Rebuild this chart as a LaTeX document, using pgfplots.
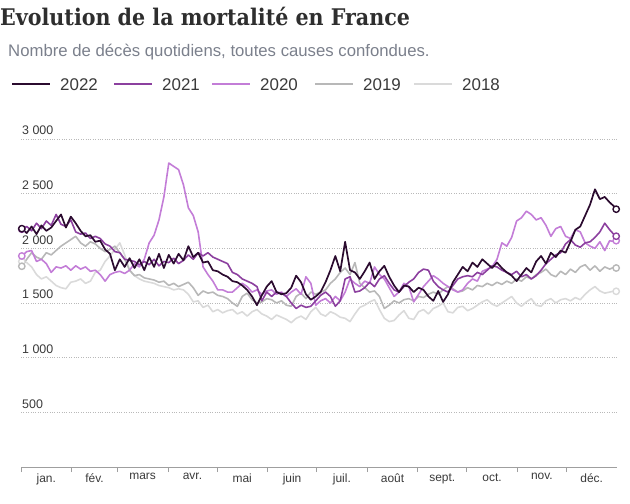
\documentclass[border=0pt]{standalone}
\usepackage{pgfplots}
\pgfplotsset{compat=1.18}
\usepackage{pgfplotstable}
\usepackage{fontspec}
\setmainfont{Liberation Sans}
\newfontfamily\titlefont{DejaVu Serif Condensed Bold}
\definecolor{cA}{HTML}{2B0B2F}
\definecolor{cB}{HTML}{8C409F}
\definecolor{cC}{HTML}{C37DD7}
\definecolor{cD}{HTML}{B8B8B8}
\definecolor{cE}{HTML}{DADADA}
\definecolor{titlec}{HTML}{2E2E2E}
\definecolor{subc}{HTML}{7B808C}
\definecolor{txtc}{HTML}{3A3A3A}
\pgfplotstableread{
d a b c e f
1 2180 2175 1930 1836 1880
4 2140 2200 1970 1900 1870
7 2200 2160 1980 1960 1830
10 2130 2230 1880 1920 1760
13 2210 2180 1900 1900 1720
16 2160 2250 1860 1960 1740
19 2190 2210 1780 1940 1700
22 2250 2310 1830 1980 1660
25 2310 2220 1820 2020 1640
28 2190 2200 1840 2050 1630
31 2290 2260 1800 2080 1690
34 2230 2150 1840 2110 1700
37 2160 2130 1810 2050 1720
40 2110 2140 1830 2020 1680
43 2120 2090 1790 2060 1700
46 2060 2110 1800 2040 1780
49 2070 2090 1760 2000 1800
52 1990 2040 1700 1970 1880
55 1950 2020 1760 1990 1930
58 1800 1970 1780 2020 1990
61 1900 1960 1790 1960 2050
64 1830 1900 1770 1900 1940
67 1910 1890 1800 1800 1800
70 1820 1880 1860 1750 1750
73 1900 1850 1830 1760 1720
76 1800 1880 1900 1730 1700
79 1920 1850 2050 1720 1690
82 1830 1900 2120 1710 1680
85 1950 1840 2260 1690 1660
88 1820 1880 2470 1700 1650
91 1940 1870 2780 1660 1640
94 1860 1910 2750 1680 1620
97 1950 1860 2720 1650 1630
100 1890 1890 2580 1670 1620
103 2020 1940 2370 1690 1580
106 1920 1900 2300 1640 1510
109 1960 1960 2150 1570 1520
112 1870 1930 1830 1610 1460
115 1880 1960 1760 1590 1480
118 1800 1920 1700 1600 1420
121 1790 1900 1620 1570 1440
124 1760 1880 1620 1560 1410
127 1740 1860 1600 1540 1430
130 1700 1780 1600 1500 1440
133 1690 1760 1640 1470 1400
136 1660 1720 1680 1560 1420
139 1620 1700 1650 1590 1380
142 1560 1680 1600 1530 1420
145 1480 1650 1620 1500 1440
148 1570 1520 1580 1510 1400
151 1650 1600 1610 1540 1380
154 1700 1560 1620 1530 1350
157 1600 1600 1580 1500 1390
160 1580 1590 1600 1520 1370
163 1590 1560 1560 1480 1350
166 1640 1500 1600 1470 1320
169 1750 1450 1630 1560 1360
172 1690 1480 1580 1590 1380
175 1580 1460 1740 1540 1350
178 1530 1470 1680 1600 1420
181 1560 1520 1480 1580 1460
184 1600 1570 1520 1600 1400
187 1690 1600 1540 1620 1380
190 1800 1560 1500 1680 1420
193 1930 1470 1560 1720 1400
196 1790 1520 1520 1780 1370
199 2060 1720 1600 1820 1360
202 1800 1740 1720 1760 1330
205 1780 1600 1680 1870 1400
208 1720 1610 1650 1680 1460
211 1790 1640 1700 1640 1480
214 1870 1690 1680 1600 1510
217 1720 1650 1830 1610 1530
220 1790 1720 1760 1560 1440
223 1840 1750 1720 1450 1360
226 1740 1680 1640 1480 1330
229 1660 1620 1560 1520 1340
232 1600 1600 1600 1500 1390
235 1660 1650 1680 1530 1430
238 1650 1690 1650 1540 1360
241 1600 1720 1510 1520 1350
244 1640 1780 1580 1560 1420
247 1620 1810 1650 1550 1440
250 1560 1800 1700 1580 1400
253 1520 1700 1750 1600 1450
256 1610 1650 1720 1580 1470
259 1510 1620 1680 1620 1500
262 1580 1600 1650 1650 1420
265 1690 1660 1620 1630 1410
268 1760 1720 1600 1600 1460
271 1830 1740 1620 1610 1470
274 1790 1750 1680 1640 1430
277 1870 1740 1720 1620 1450
280 1830 1780 1700 1660 1480
283 1900 1760 1790 1650 1510
286 1860 1800 1810 1680 1530
289 1820 1840 1830 1660 1490
292 1870 1830 1900 1690 1470
295 1820 1800 2050 1670 1500
298 1780 1780 2020 1700 1530
301 1750 1760 2100 1680 1560
304 1700 1790 2250 1720 1500
307 1760 1740 2280 1700 1470
310 1820 1760 2340 1740 1510
313 1780 1720 2310 1720 1540
316 1880 1750 2260 1760 1480
319 1930 1800 2280 1780 1470
322 1860 1860 2210 1810 1520
325 1960 1900 2110 1760 1540
328 1920 1940 2180 1740 1500
331 1980 1960 2200 1790 1530
334 1960 2040 2110 1760 1540
337 2060 2080 2090 1810 1520
340 2170 2030 2170 1780 1550
343 2200 2010 2150 1830 1530
346 2300 2050 2050 1850 1580
349 2400 2060 2020 1800 1620
352 2540 2100 2000 1840 1650
355 2450 2150 2060 1790 1610
358 2470 2230 1980 1830 1590
361 2420 2170 2070 1810 1600
364 2380 2120 2060 1830 1610
365 2358 2111 2070 1820 1607
}\mortdata
\begin{document}
\begin{tikzpicture}
\useasboundingbox (0,0) rectangle (630bp,-504bp);
\node[anchor=base west, inner sep=0pt, text=titlec] at (0bp,-25bp)
  {\titlefont\fontsize{23}{23}\selectfont Evolution de la mortalité en France};
\node[anchor=base west, inner sep=0pt, text=subc] at (8bp,-56bp)
  {\fontsize{16.8}{16.8}\selectfont Nombre de décès quotidiens, toutes causes confondues.};
% legend
\foreach \xx/\cc/\yy in {12/cA/2022,114/cB/2021,212/cC/2020,315/cD/2019,414/cE/2018}{
  \draw[\cc, line width=1.8bp] (\xx bp,-84bp) -- ++(38bp,0);
  \node[anchor=base west, inner sep=0pt, text=txtc] at ([xshift=48bp]\xx bp,-90bp)
    {\fontsize{17}{17}\selectfont \yy};
}
\begin{axis}[
  at={(21bp,-467bp)}, anchor=south west,
  scale only axis, width=596bp, height=328bp,
  xmin=0.5, xmax=365.5, ymin=0, ymax=3000,
  separate axis lines,
  axis x line*=bottom, axis y line*=left,
  y axis line style={draw=none},
  x axis line style={draw=gray!75, line width=0.6bp},
  ytick={500,1000,1500,2000,2500,3000},
  ytick style={draw=none},
  ymajorgrids,
  grid style={dotted, gray!55, line width=0.6bp},
  xtick={16,45.5,75,105.5,136,166.5,197,228,258.5,289,319.5,350},
  xticklabels={jan.,fév.,mars,avr.,mai,juin,juil.,août,sept.,oct.,nov.,déc.},
  major tick length=0pt,
  minor xtick={0.5,31.5,59.5,90.5,120.5,151.5,181.5,212.5,243.5,273.5,304.5,334.5},
  minor tick length=5bp,
  tick align=outside,
  minor x tick style={draw=gray!75, line width=0.6bp},
  xticklabel style={font=\fontsize{12}{12}\selectfont, text=txtc, yshift=-3bp},
  yticklabel style={font=\fontsize{12.5}{12.5}\selectfont, text=txtc, anchor=south west, inner sep=0pt, xshift=1bp, yshift=4bp},
  /pgf/number format/assume math mode=true,
  /pgf/number format/1000 sep={\ },
  clip=false,
  every axis plot/.append style={line join=round, mark indices={1,123}, mark=*, mark size=3.2bp},
]
\addplot[cE, line width=1.6bp, mark options={fill=white, line width=1.4bp}] table[x=d,y=f]{\mortdata};
\addplot[cD, line width=1.6bp, mark options={fill=white, line width=1.4bp}] table[x=d,y=e]{\mortdata};
\addplot[cC, line width=1.6bp, mark options={fill=white, line width=1.4bp}] table[x=d,y=c]{\mortdata};
\addplot[cB, line width=1.6bp, mark options={fill=white, line width=1.4bp}] table[x=d,y=b]{\mortdata};
\addplot[cA, line width=1.7bp, mark options={fill=white, line width=1.4bp}] table[x=d,y=a]{\mortdata};
\end{axis}
\end{tikzpicture}
\end{document}
